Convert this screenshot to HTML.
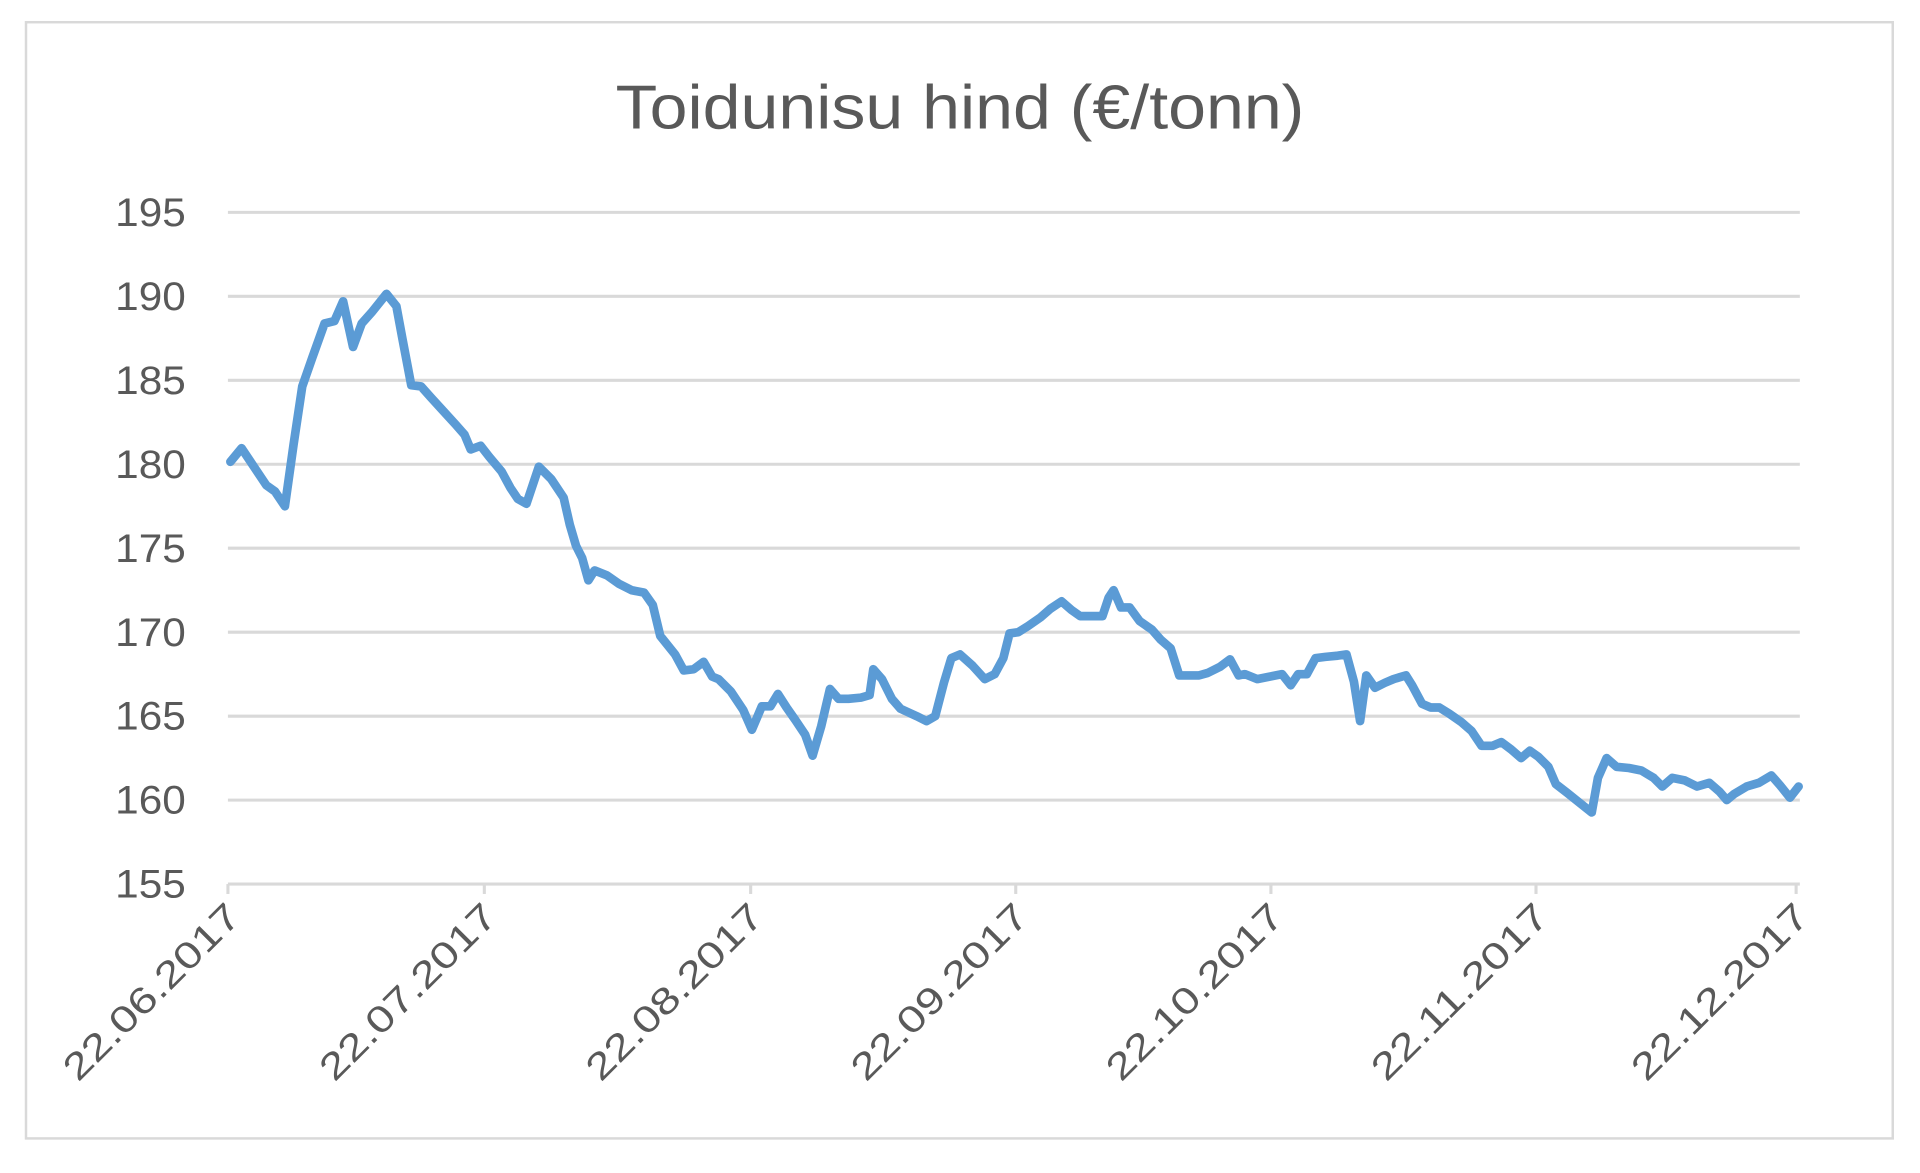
<!DOCTYPE html>
<html><head><meta charset="utf-8"><style>
html,body{margin:0;padding:0;background:#fff;}
svg{display:block;}
text{font-family:"Liberation Sans",sans-serif;fill:#595959;}
</style></head><body>
<svg width="1920" height="1173" viewBox="0 0 1550 950" preserveAspectRatio="none" xmlns="http://www.w3.org/2000/svg">
<rect x="0" y="0" width="1550" height="950" fill="#fff"/>
<rect x="21" y="18" width="1507" height="904" fill="none" stroke="#d9d9d9" stroke-width="2"/>
<text x="775" y="104" text-anchor="middle" font-size="50" textLength="556" lengthAdjust="spacingAndGlyphs">Toidunisu hind (€/tonn)</text>
<g stroke="#d9d9d9" stroke-width="2.5">
<line x1="184" y1="172" x2="1453" y2="172"/>
<line x1="184" y1="240" x2="1453" y2="240"/>
<line x1="184" y1="308" x2="1453" y2="308"/>
<line x1="184" y1="376" x2="1453" y2="376"/>
<line x1="184" y1="444" x2="1453" y2="444"/>
<line x1="184" y1="512" x2="1453" y2="512"/>
<line x1="184" y1="580" x2="1453" y2="580"/>
<line x1="184" y1="648" x2="1453" y2="648"/>
<line x1="184" y1="716" x2="1453" y2="716"/>
<line x1="184" y1="716" x2="184" y2="724"/>
<line x1="391" y1="716" x2="391" y2="724"/>
<line x1="606" y1="716" x2="606" y2="724"/>
<line x1="820" y1="716" x2="820" y2="724"/>
<line x1="1026" y1="716" x2="1026" y2="724"/>
<line x1="1240" y1="716" x2="1240" y2="724"/>
<line x1="1450" y1="716" x2="1450" y2="724"/>
</g>
<g font-size="32" text-anchor="end">
<text x="150" y="183" textLength="57" lengthAdjust="spacingAndGlyphs">195</text>
<text x="150" y="251" textLength="57" lengthAdjust="spacingAndGlyphs">190</text>
<text x="150" y="319" textLength="57" lengthAdjust="spacingAndGlyphs">185</text>
<text x="150" y="387" textLength="57" lengthAdjust="spacingAndGlyphs">180</text>
<text x="150" y="455" textLength="57" lengthAdjust="spacingAndGlyphs">175</text>
<text x="150" y="523" textLength="57" lengthAdjust="spacingAndGlyphs">170</text>
<text x="150" y="591" textLength="57" lengthAdjust="spacingAndGlyphs">165</text>
<text x="150" y="659" textLength="57" lengthAdjust="spacingAndGlyphs">160</text>
<text x="150" y="727" textLength="57" lengthAdjust="spacingAndGlyphs">155</text>
</g>
<g font-size="30" text-anchor="end">
<text transform="translate(196,744) rotate(-45)" textLength="188" lengthAdjust="spacingAndGlyphs">22.06.2017</text>
<text transform="translate(403,744) rotate(-45)" textLength="188" lengthAdjust="spacingAndGlyphs">22.07.2017</text>
<text transform="translate(618,744) rotate(-45)" textLength="188" lengthAdjust="spacingAndGlyphs">22.08.2017</text>
<text transform="translate(832,744) rotate(-45)" textLength="188" lengthAdjust="spacingAndGlyphs">22.09.2017</text>
<text transform="translate(1038,744) rotate(-45)" textLength="188" lengthAdjust="spacingAndGlyphs">22.10.2017</text>
<text transform="translate(1252,744) rotate(-45)" textLength="188" lengthAdjust="spacingAndGlyphs">22.11.2017</text>
<text transform="translate(1462,744) rotate(-45)" textLength="188" lengthAdjust="spacingAndGlyphs">22.12.2017</text>
</g>
<polyline fill="none" stroke="#5b9bd5" stroke-width="7" stroke-linejoin="round" stroke-linecap="round" points="186,374 195,363 205,378 215,393 222,398 230,410 237,360 244,313 252,290 262,262 270,260 277,244 285,281 292,262 300,253 312,238 320,248 325,275 332,312 340,313 348,322 358,333 368,344 375,352 380,364 388,361 395,370 405,382 412,395 418,404 425,408 430,393 435,378 445,388 455,403 460,425 465,442 470,452 475,470 480,462 490,466 500,473 510,478 520,480 527,490 533,515 545,530 552,543 560,542 568,536 575,548 580,550 590,560 600,575 607,591 615,572 622,572 628,562 635,573 642,583 650,595 656,612 663,588 670,558 677,566 685,566 695,565 702,563 705,542 712,550 720,566 727,574 740,580 748,584 755,580 762,553 768,533 775,530 785,539 795,550 803,546 810,533 815,513 822,512 830,507 840,500 848,493 857,487 865,494 872,499 880,499 890,499 895,484 899,478 905,492 912,492 920,503 930,510 937,518 945,525 952,547 960,547 968,547 975,545 985,540 993,534 1000,547 1005,546 1015,550 1025,548 1035,546 1042,555 1048,546 1055,546 1062,533 1070,532 1080,531 1087,530 1093,552 1098,584 1103,547 1110,557 1118,553 1125,550 1135,547 1140,555 1148,570 1155,573 1162,573 1170,578 1180,585 1188,592 1196,604 1205,604 1212,601 1220,607 1228,614 1235,608 1242,613 1250,621 1256,635 1265,642 1275,650 1285,658 1290,630 1297,614 1305,621 1315,622 1325,624 1335,630 1342,637 1350,630 1360,632 1370,637 1380,634 1388,641 1394,648 1400,643 1410,637 1420,634 1430,628 1437,636 1445,646 1452,637"/>
</svg>
</body></html>
